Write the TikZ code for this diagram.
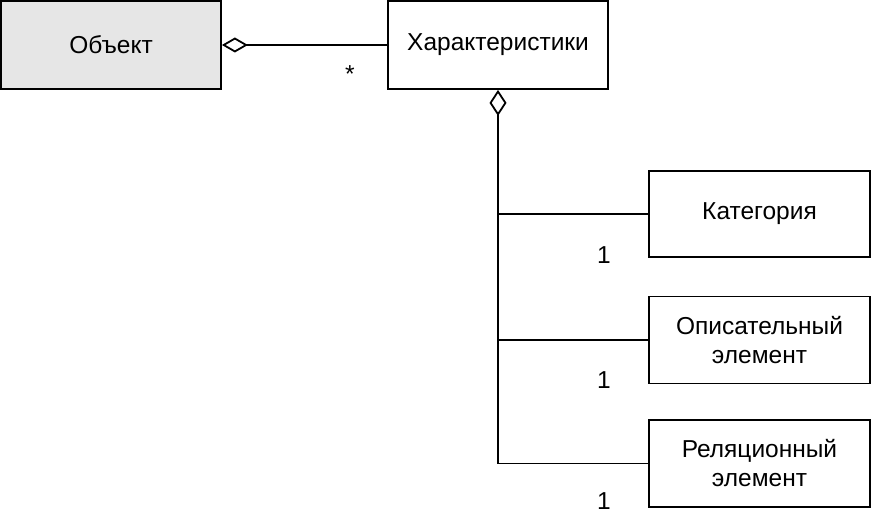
\documentclass[tikz,border=0pt]{standalone}
\usepackage{fontspec}
\setmainfont{Liberation Sans}
\usetikzlibrary{arrows.meta}
\definecolor{boxgray}{HTML}{E6E6E6}
\begin{document}
\begin{tikzpicture}[x=1pt,y=-1pt,
  cls/.style={draw=black, line width=1.8pt, rectangle, inner sep=0pt, align=center, font=\fontsize{24.5}{29}\selectfont},
  conn/.style={draw=black, line width=1.8pt},
  mult/.style={inner sep=0pt, font=\fontsize{24.5}{29}\selectfont}]
\useasboundingbox (0,0) rectangle (871,513);
\node[cls, fill=boxgray, minimum width=220pt, minimum height=88pt] (obj) at (111,45) {Объект};
\node[cls, minimum width=220pt, minimum height=88pt] (chr) at (498,45) {Характеристики};
\node[cls, minimum width=221pt, minimum height=86pt] (cat) at (759.5,214) {Категория};
\node[cls, minimum width=221pt, minimum height=87pt] (dsc) at (759.5,340) {Описательный\\элемент};
\node[cls, minimum width=221pt, minimum height=87pt] (rel) at (759.5,463.5) {Реляционный\\элемент};
\coordinate (j1) at (chr.south |- cat.west);
\coordinate (j2) at (chr.south |- dsc.west);
\coordinate (j3) at (chr.south |- rel.west);
\draw[conn, {Diamond[open, length=26pt, width=15pt, line width=1.8pt]}-] (obj.east) -- (chr.west);
\draw[conn, {Diamond[open, length=26pt, width=17pt, line width=1.8pt]}-] (chr.south) -- (j3) -- (rel.west);
\draw[conn] (j1) -- (cat.west);
\draw[conn] (j2) -- (dsc.west);
\node[mult] (m0) at (350,74) {*};
\node[mult] (m1) at (604,255) {1};
\node[mult] (m2) at (604,380) {1};
\node[mult] (m3) at (604,501) {1};
\end{tikzpicture}
\end{document}
